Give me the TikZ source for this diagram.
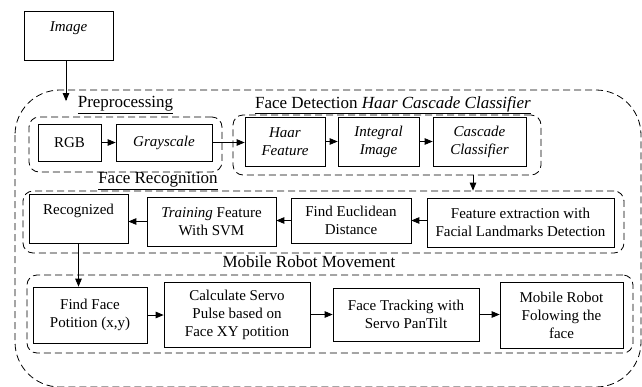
\documentclass[tikz,border=0pt]{standalone}
\usepackage{fontspec}
\setmainfont{LiberationSerif}[Extension=.ttf,UprightFont=*-Regular,ItalicFont=*-Italic,BoldFont=*-Bold,BoldItalicFont=*-BoldItalic]
\usepackage{tikz}
\usetikzlibrary{arrows}

\begin{document}
\begin{tikzpicture}[x=1pt,y=-1pt,
	box/.style={draw,line width=0.8pt,align=center,inner sep=1pt,font=\fontsize{15}{18}\selectfont},
	group/.style={draw,dash pattern=on 7pt off 4pt,line width=0.8pt,rounded corners=10pt},
	lbl/.style={inner sep=0pt,font=\fontsize{17}{20}\selectfont},
	arr/.style={-triangle 45,line width=0.8pt}]
	\useasboundingbox (0,0) rectangle (642,386);

	% outer frame
	\draw[dash pattern=on 7pt off 4pt,line width=0.8pt,rounded corners=45pt] (15,90) rectangle (641,387);

	% groups
	\node[group,minimum width=193,minimum height=55](pre) at (125.5,144.5) {};
	\node[group,minimum width=308,minimum height=60](det) at (387,145) {};
	\node[group,minimum width=601,minimum height=62](recog) at (323.5,222) {};
	\node[group,minimum width=606,minimum height=78](move) at (330,314) {};

	\node[lbl](prel) at (125.5,105) {\underline{Preprocessing}};
	\node[lbl](detl) at (393,105) {\underline{Face Detection \textit{Haar Cascade Classifier}}};
	\node[lbl](recogl) at (158,181) {\underline{Face Recognition}};
	\node[lbl](movel) at (309,262) {Mobile Robot Movement};

	% boxes
	\node[box,minimum width=89,minimum height=49](img) at (68.5,35.5) {\textit{Image}\\ \mbox{}};
	\node[box,minimum width=63,minimum height=37](rgb) at (69.5,142.5) {RGB};
	\node[box,minimum width=96,minimum height=37](gray) at (164,142.5) {\textit{Grayscale}};
	\node[box,minimum width=80,minimum height=49](haar) at (285,141.5) {\textit{Haar}\\\textit{Feature}};
	\node[box,minimum width=81,minimum height=49](integ) at (378.5,141.5) {\textit{Integral}\\\textit{Image}};
	\node[box,minimum width=93,minimum height=49](casc) at (479.5,141.5) {\textit{Cascade}\\\textit{Classifier}};

	\node[box,minimum width=99,minimum height=49](rec) at (78.5,218.5) {Recognized\\ \mbox{}};
	\node[box,minimum width=129,minimum height=49](train) at (211.5,221.5) {\textit{Training} Feature\\With SVM};
	\node[box,minimum width=120,minimum height=45](eucl) at (351,220.5) {Find Euclidean\\Distance};
	\node[box,minimum width=187,minimum height=49](fex) at (520.5,222.5) {Feature extraction with\\Facial Landmarks Detection};

	\node[box,minimum width=114,minimum height=56](find) at (90,315) {Find Face\\Potition (x,y)};
	\node[box,minimum width=146,minimum height=65](calc) at (237,314.5) {Calculate Servo\\Pulse based on\\Face XY potition};
	\node[box,minimum width=146,minimum height=53](track) at (406,314.5) {Face Tracking with\\Servo PanTilt};
	\node[box,minimum width=123,minimum height=66](mob) at (561.5,315) {Mobile Robot\\Folowing the\\face};

	\coordinate (pin) at (66,101);
	\coordinate (drop) at (473,0);

	% arrows
	\draw[arr] (img.south -| pin) -- (pin);
	\draw[arr] (rgb) -- (gray);
	\draw[arr] (gray.east) -- (gray.east -| haar.west);
	\draw[arr] (haar) -- (integ);
	\draw[arr] (integ) -- (casc);
	\draw[arr] (det.south -| drop) -- (recog.north -| drop);
	\draw[arr] (fex.west |- eucl) -- (eucl.east);
	\draw[arr] (eucl.west) -- (eucl.west -| train.east);
	\draw[arr] (train.west) -- (train.west -| rec.east);
	\draw[arr] (rec.south) -- (rec.south |- find.north);
	\draw[arr] (find.east) -- (find.east -| calc.west);
	\draw[arr] (calc.east) -- (calc.east -| track.west);
	\draw[arr] (track.east) -- (track.east -| mob.west);
\end{tikzpicture}
\end{document}
